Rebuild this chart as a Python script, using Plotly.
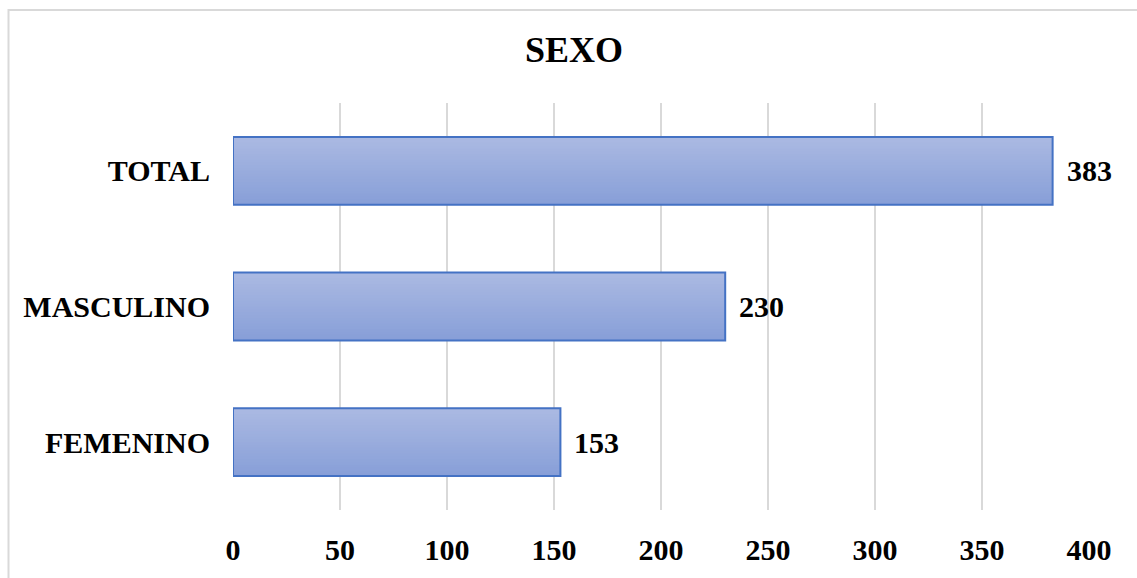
import plotly.graph_objects as go

categories = ["FEMENINO", "MASCULINO", "TOTAL"]
values = [153, 230, 383]
x_ticks = [0, 50, 100, 150, 200, 250, 300, 350, 400]

FONT = "Liberation Serif, Times New Roman, serif"
BAR_W = 0.5
N = 24
top_c = (0xAA, 0xB9, 0xE2)
bot_c = (0x88, 0x9F, 0xD8)

fig = go.Figure()

# gradient fill: stacked overlapping strips, bottom colour first
for k in range(N):
    t = k / (N - 1)
    c = tuple(round(bot_c[i] + (top_c[i] - bot_c[i]) * t) for i in range(3))
    lo = -BAR_W / 2 + k * BAR_W / N
    fig.add_trace(go.Bar(
        x=values, y=categories, orientation="h",
        offset=lo, width=BAR_W / 2 - lo,
        marker=dict(color="rgb(%d,%d,%d)" % c, line=dict(width=0)),
        hoverinfo="skip", showlegend=False,
    ))

# outline
fig.add_trace(go.Bar(
    x=values, y=categories, orientation="h",
    offset=-BAR_W / 2, width=BAR_W,
    marker=dict(color="rgba(0,0,0,0)", line=dict(color="#4472C4", width=2)),
    showlegend=False,
))

bold = dict(family=FONT, size=30, color="#000000", weight="bold")

for v, c in zip(values, categories):
    fig.add_annotation(x=v, y=c, text=str(v), showarrow=False,
                       xanchor="left", xshift=12, font=bold)

W, H = 1137, 578
ml, mr, mt, mb = 233, 48, 103, 61
pw, ph = W - ml - mr, H - mt - mb

fig.add_shape(type="rect", xref="paper", yref="paper",
              x0=(8.5 - ml) / pw, x1=1.3, y0=-0.5, y1=(H - mb - 8.5) / ph,
              line=dict(color="#D9D9D9", width=2), fillcolor="rgba(0,0,0,0)",
              layer="below")

fig.update_layout(
    width=W, height=H,
    margin=dict(l=ml, r=mr, t=mt, b=mb),
    paper_bgcolor="white", plot_bgcolor="white",
    barmode="overlay",
    title=dict(text="SEXO", x=574 / W, xref="container", xanchor="center",
               y=1 - 49 / H, yanchor="middle",
               font=dict(family=FONT, size=36, color="#000000", weight="bold")),
    xaxis=dict(range=[0, 400], tickvals=x_ticks, ticktext=[str(t) for t in x_ticks],
               showgrid=True, gridcolor="#D9D9D9", gridwidth=2,
               zeroline=False, showline=False, ticks="",
               ticklabelstandoff=19, tickfont=bold),
    yaxis=dict(categoryorder="array", categoryarray=categories,
               showgrid=False, zeroline=False, showline=False, ticks="",
               ticklabelstandoff=22, tickfont=bold),
    font=dict(family=FONT),
)

fig.write_html("out.html")
